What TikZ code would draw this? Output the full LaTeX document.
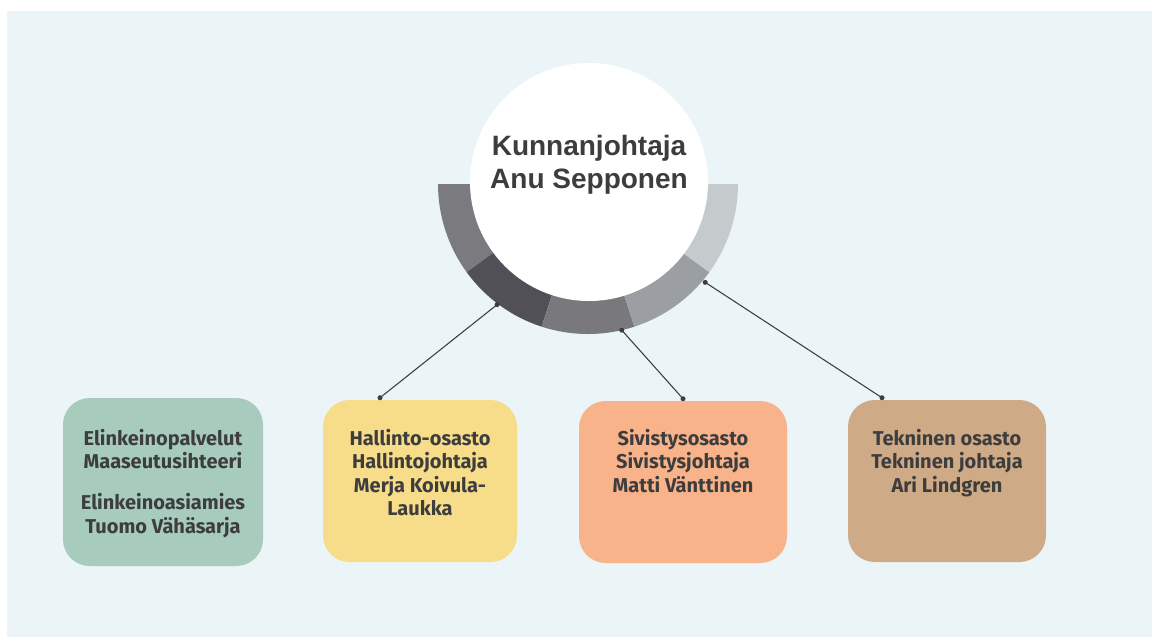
\documentclass[tikz,border=0pt]{standalone}
\usepackage{fontspec}
\setmainfont{Liberation Sans}
\newfontfamily\boxfont{Fira Sans}
\usetikzlibrary{calc}
\usetikzlibrary{positioning}

\definecolor{panel}{HTML}{EBF4F6}
\definecolor{ink}{HTML}{3D3D3D}
\definecolor{ringA}{HTML}{7A7A7F}
\definecolor{ringB}{HTML}{505056}
\definecolor{ringC}{HTML}{78787D}
\definecolor{ringD}{HTML}{9B9FA3}
\definecolor{ringE}{HTML}{C5CACD}
\definecolor{greenbox}{HTML}{A7CBBD}
\definecolor{yellowbox}{HTML}{F7DC8A}
\definecolor{orangebox}{HTML}{F9B38A}
\definecolor{brownbox}{HTML}{CFAA86}

\tikzset{
 deptbox/.style={rounded corners=20pt, inner sep=0, minimum height=121.5pt},
 depttext/.style={anchor=north, align=center, inner sep=0, text=ink, font=\boxfont\bfseries\fontsize{15}{17.6}\selectfont},
 headtext/.style={align=center, inner sep=0, text=ink, font=\bfseries\fontsize{21}{25}\selectfont},
 connector/.style={draw=ink, line width=0.8pt},
 dot/.style={fill=ink}
}

\begin{document}
\begin{tikzpicture}[x=0.75pt,y=0.75pt]
\useasboundingbox (0,0) rectangle (1157,-637);
\fill[white] (0,0) rectangle (1157,-637);
\fill[panel] (7,-11) rectangle (1152,-637);
\coordinate (C) at (588,-184);
\foreach \a/\c in {180/ringA, 216/ringB, 252/ringC, 288/ringD, 324/ringE} {
 \fill[\c] ($(C)+(\a:150)$) arc[start angle=\a, delta angle=36, radius=150]
  -- ($(C)+(\a+36:100)$) arc[start angle=\a+36, delta angle=-36, radius=100] -- cycle;
}
\node[circle, fill=white, minimum size=178.5pt, inner sep=0] (kunnanjohtaja) at (589,-182) {};
\node[headtext] (kunnanjohtajateksti) at (589,-165) {Kunnanjohtaja\\Anu Sepponen};

\node[deptbox, fill=greenbox, minimum width=150pt, minimum height=126pt] (elinkeino) at (163,-482) {};
\node[deptbox, fill=yellowbox, minimum width=145.5pt] (hallinto) at (420,-481) {};
\node[deptbox, fill=orangebox, minimum width=156pt] (sivistys) at (683,-482) {};
\node[deptbox, fill=brownbox, minimum width=148.5pt] (tekninen) at (947,-481) {};

\node[depttext] (elinkeinoteksti) at (163,-429) {Elinkeinopalvelut\\Maaseutusihteeri\\[13pt]Elinkeinoasiamies\\Tuomo Vähäsarja};
\node[depttext] (hallintoteksti) at (420,-429) {Hallinto-osasto\\Hallintojohtaja\\Merja Koivula-\\Laukka};
\node[depttext] (sivistysteksti) at (683,-429) {Sivistysosasto\\Sivistysjohtaja\\Matti Vänttinen};
\node[depttext] (tekninenteksti) at (947,-429) {Tekninen osasto\\Tekninen johtaja\\Ari Lindgren};

\coordinate (hallintoring) at ($(C)+(233:151)$);
\coordinate (sivistysring) at ($(C)+(283:150)$);
\coordinate (tekninenring) at ($(C)+(320:153)$);
\coordinate (hallintotop) at ($(hallinto.north)+(-40,2)$);
\coordinate (sivistystop) at ($(sivistys.north)+(0,2)$);
\coordinate (tekninentop) at ($(tekninen.north)+(-65,2)$);
\foreach \r/\t in {hallintoring/hallintotop, sivistysring/sivistystop, tekninenring/tekninentop} {
 \draw[connector] (\r) -- (\t);
 \fill[dot] (\r) circle (2.5);
 \fill[dot] (\t) circle (2.5);
}
\end{tikzpicture}
\end{document}
